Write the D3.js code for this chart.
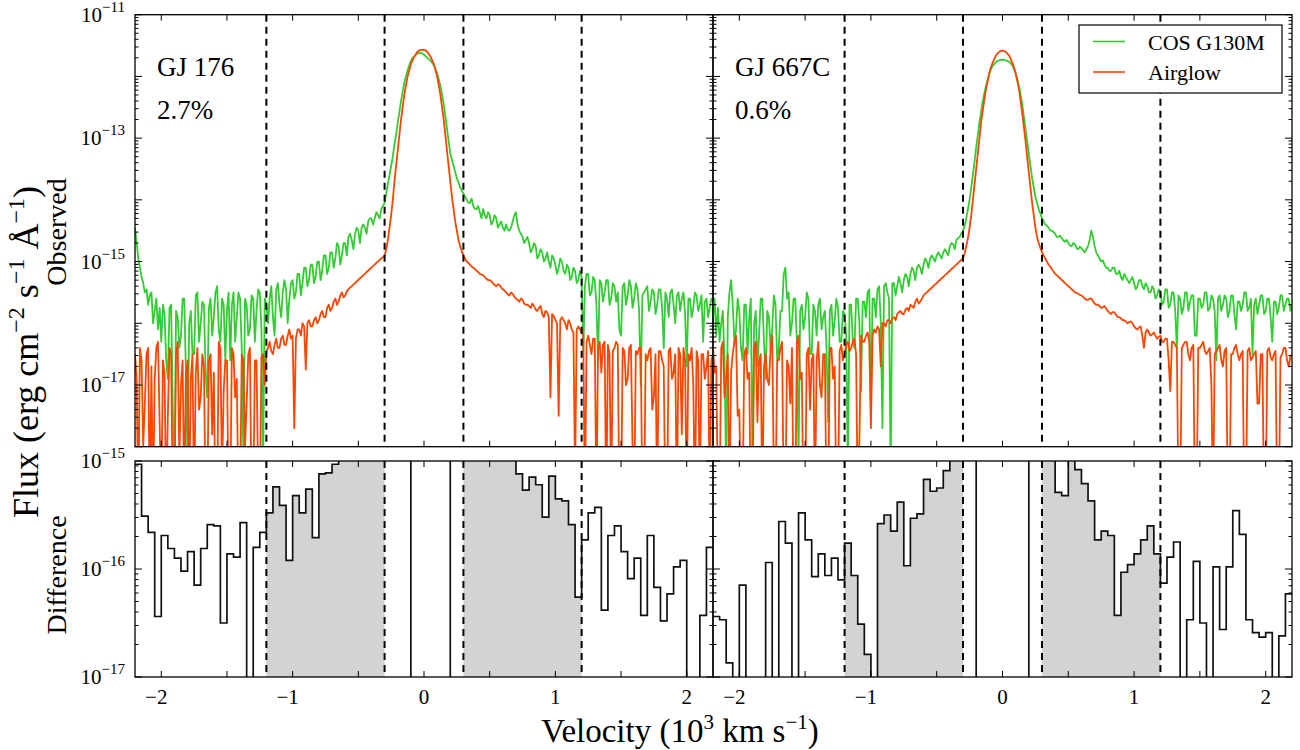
<!DOCTYPE html>
<html><head><meta charset="utf-8">
<script src="https://cdn.jsdelivr.net/npm/d3@7"></script>
<style>body{margin:0;background:#fff} text{font-family:"Liberation Serif","Times New Roman",serif;fill:#000}</style>
</head><body><svg id="c" width="1300" height="750"></svg>
<script>
// ---------- DATA (log10 flux, erg cm^-2 s^-1 A^-1) ----------
const velStart = -2.2, velStep = 0.0125;   // 10^3 km/s grid of the spectra
const gj176Cos = [
-14.45,-14.7,-14.95,-15.1,-15.25,-15.35,-15.5,-15.45,-15.7,-15.55,-15.5,-16.0,-15.8,-15.6,-16.1,-15.75,
-16.3,-15.7,-15.85,-16.6,-16.9,-15.75,-15.7,-17.4,-18.5,-15.8,-15.9,-16.4,-16.2,-15.6,-15.6,-16.8,
-18.3,-16.0,-15.8,-16.5,-16.5,-15.55,-15.5,-16.3,-16.0,-15.65,-15.7,-16.8,-17.2,-15.75,-15.6,-16.2,
-15.9,-15.5,-15.4,-16.1,-16.3,-15.6,-15.7,-16.6,-15.8,-15.5,-16.6,-15.7,-15.5,-16.3,-15.9,-15.5,
-15.6,-16.4,-18.2,-15.6,-15.7,-16.2,-16.1,-15.55,-15.6,-16.3,-15.8,-15.45,-15.5,-16.1,-18.4,-15.6,
-15.7,-16.0,-15.6,-15.4,-15.9,-16.2,-15.45,-15.35,-15.7,-15.9,-15.5,-15.3,-15.45,-16.0,-15.6,-15.35,
-15.3,-15.6,-15.5,-15.2,-15.2,-15.55,-15.35,-15.1,-15.1,-15.4,-15.3,-15.05,-15.05,-15.35,-15.25,-15.0,
-15.0,-15.3,-15.15,-14.9,-14.9,-15.2,-15.1,-14.85,-14.85,-15.1,-14.95,-14.7,-14.75,-15.05,-14.9,-14.7,
-14.7,-14.9,-14.6,-14.55,-14.65,-14.8,-14.55,-14.45,-14.5,-14.7,-14.45,-14.4,-14.45,-14.55,-14.35,-14.3,
-14.3,-14.4,-14.3,-14.2,-14.25,-14.3,-14.15,-14.1,-14.05,-13.9,-13.75,-13.6,-13.45,-13.3,-13.1,-12.95,
-12.75,-12.58,-12.4,-12.25,-12.1,-12.0,-11.9,-11.82,-11.75,-11.7,-11.68,-11.65,-11.63,-11.62,-11.62,-11.63,
-11.65,-11.67,-11.7,-11.72,-11.75,-11.78,-11.82,-11.88,-11.95,-12.05,-12.15,-12.3,-12.45,-12.65,-12.85,-13.05,
-13.25,-13.35,-13.45,-13.55,-13.65,-13.72,-13.8,-13.85,-13.9,-13.95,-14.0,-14.05,-14.05,-13.98,-14.1,-14.15,
-14.15,-14.1,-14.2,-14.3,-14.15,-14.25,-14.3,-14.2,-14.25,-14.4,-14.35,-14.25,-14.3,-14.45,-14.4,-14.35,
-14.45,-14.5,-14.4,-14.48,-14.5,-14.45,-14.35,-14.25,-14.2,-14.4,-14.5,-14.55,-14.6,-14.7,-14.65,-14.6,
-14.7,-14.85,-14.8,-14.7,-14.75,-14.95,-14.9,-14.8,-14.85,-15.0,-14.95,-14.85,-15.0,-15.1,-14.9,-14.95,
-15.05,-15.2,-15.1,-14.95,-15.0,-15.15,-15.2,-15.05,-15.1,-15.3,-15.25,-15.1,-15.15,-15.35,-15.3,-15.15,
-15.25,-16.5,-15.4,-15.2,-15.2,-15.55,-15.5,-15.25,-15.3,-15.7,-16.6,-15.3,-15.35,-15.65,-15.5,-15.3,
-15.3,-15.7,-15.6,-15.35,-15.4,-15.65,-15.5,-16.1,-16.2,-15.4,-15.35,-15.7,-15.55,-15.3,-15.4,-15.75,
-15.6,-15.35,-15.45,-15.8,-17.0,-15.55,-15.5,-15.45,-15.4,-15.8,-15.65,-15.45,-15.5,-15.85,-15.7,-15.45,
-15.45,-15.75,-16.4,-15.5,-15.6,-15.9,-15.5,-15.45,-15.7,-16.0,-15.55,-15.5,-15.8,-15.6,-15.5,-15.85,
-16.7,-15.6,-15.6,-15.9,-15.75,-15.5,-15.55,-15.8,-15.7,-15.55,-16.3,-15.65,-15.6,-15.9,-15.75,-15.6,
-15.65];
const gj176Air = [
-16.5,-16.9,-19,-16.4,-16.6,-18.0,-17.3,-16.5,-16.4,-19,-16.7,-19,-16.9,-16.4,-16.3,-17.6,
-19,-16.6,-16.8,-19,-17.5,-16.4,-16.5,-19,-19,-16.5,-16.3,-18.2,-17.0,-16.6,-19,-16.8,
-16.6,-19,-16.9,-16.5,-19,-16.8,-16.4,-17.4,-17.2,-16.5,-16.7,-19,-19,-16.6,-16.5,-17.8,
-16.8,-19,-19,-16.3,-16.4,-18.5,-17.1,-16.6,-16.6,-19,-19,-16.4,-16.5,-17.2,-16.9,-19,
-19,-16.5,-16.6,-18.0,-17.3,-16.5,-16.4,-19,-19,-16.6,-16.6,-18.6,-19,-16.55,-16.5,-17.0,
-16.45,-16.4,-16.3,-16.45,-16.5,-16.35,-16.25,-16.4,-16.4,-16.25,-16.2,-16.35,-16.35,-16.2,-16.1,-16.25,
-16.2,-17.7,-16.25,-16.1,-16.1,-16.2,-16.0,-16.05,-16.75,-16.0,-15.95,-16.05,-16.05,-15.95,-15.9,-16.0,
-15.95,-15.85,-15.8,-15.9,-15.9,-15.75,-15.7,-15.8,-15.75,-15.65,-15.6,-15.7,-15.65,-15.55,-15.5,-15.58,
-15.55,-15.48,-15.45,-15.42,-15.4,-15.37,-15.35,-15.32,-15.3,-15.27,-15.25,-15.22,-15.2,-15.17,-15.15,-15.12,
-15.1,-15.07,-15.05,-15.02,-15.0,-14.97,-14.95,-14.93,-14.9,-14.8,-14.65,-14.45,-14.25,-14.0,-13.7,-13.45,
-13.2,-12.95,-12.7,-12.5,-12.3,-12.15,-12.0,-11.9,-11.8,-11.74,-11.68,-11.64,-11.6,-11.58,-11.57,-11.57,
-11.57,-11.58,-11.6,-11.64,-11.68,-11.74,-11.8,-11.9,-12.0,-12.15,-12.3,-12.5,-12.7,-12.95,-13.2,-13.45,
-13.7,-13.95,-14.15,-14.35,-14.5,-14.65,-14.75,-14.83,-14.9,-14.95,-15.0,-15.02,-15.05,-15.08,-15.1,-15.12,
-15.15,-15.17,-15.2,-15.21,-15.22,-15.25,-15.28,-15.3,-15.3,-15.32,-15.35,-15.38,-15.4,-15.37,-15.38,-15.42,
-15.45,-15.47,-15.5,-15.53,-15.55,-15.5,-15.52,-15.57,-15.6,-15.62,-15.65,-15.6,-15.62,-15.68,-15.7,-15.7,
-15.72,-15.75,-15.68,-15.72,-15.78,-15.8,-15.75,-15.72,-15.85,-15.9,-15.8,-15.82,-15.9,-17.2,-15.85,-15.88,
-15.95,-16.0,-17.5,-15.95,-15.9,-15.95,-16.0,-16.1,-15.95,-16.0,-16.1,-16.15,-18.5,-16.1,-16.05,-16.1,
-16.15,-16.2,-19,-16.3,-16.2,-16.35,-16.5,-16.25,-16.25,-19,-16.4,-16.3,-16.8,-16.35,-16.3,-19,
-16.35,-16.5,-19,-16.45,-16.4,-16.3,-16.35,-19,-19,-16.4,-16.45,-17.0,-16.9,-16.4,-16.35,-18.0,
-19,-16.45,-16.5,-16.4,-16.4,-19,-19,-16.5,-16.6,-16.45,-16.4,-17.4,-17.2,-16.5,-19,-16.45,
-16.45,-16.6,-16.7,-19,-19,-16.45,-16.4,-16.9,-16.8,-16.5,-19,-16.4,-16.5,-17.8,-16.4,-16.6,
-19,-16.5,-16.6,-16.4,-17.0,-19,-16.45,-16.6,-19,-16.5,-16.5,-16.9,-16.7,-16.45,-19,-16.6,
-16.5];
const gj667Cos = [
-15.9,-15.6,-16.2,-15.75,-16.3,-16.0,-15.8,-16.6,-18.5,-15.9,-15.5,-15.3,-15.7,-16.3,-16.1,-15.6,
-15.8,-16.4,-16.6,-15.7,-15.7,-16.5,-15.9,-15.6,-18.3,-16.0,-15.8,-16.7,-16.2,-15.6,-15.6,-16.3,
-16.9,-15.8,-15.9,-16.4,-16.1,-15.55,-15.7,-16.6,-16.4,-15.8,-15.8,-15.2,-15.1,-15.6,-15.5,-16.2,
-16.0,-15.6,-15.6,-16.3,-18.2,-15.8,-15.7,-16.1,-15.9,-15.5,-15.6,-16.5,-16.5,-15.7,-15.8,-16.2,
-15.7,-15.6,-16.1,-15.9,-15.8,-16.4,-17.6,-15.8,-15.7,-16.2,-15.95,-15.6,-15.75,-16.3,-16.3,-15.8,
-15.85,-16.2,-18.5,-15.7,-15.7,-16.3,-16.4,-15.6,-15.6,-16.0,-17.1,-15.65,-15.65,-15.9,-15.5,-15.45,
-17.45,-15.6,-15.6,-15.9,-15.45,-15.4,-16.0,-17.7,-15.4,-15.35,-15.5,-15.6,-18.5,-15.35,-15.35,-15.55,
-15.4,-15.25,-15.35,-15.5,-15.3,-15.2,-15.25,-15.4,-15.2,-15.1,-15.15,-15.3,-15.1,-15.05,-15.1,-15.2,
-15.05,-14.95,-15.0,-15.1,-14.95,-14.9,-14.95,-15.0,-14.9,-14.85,-14.9,-14.95,-14.85,-14.8,-14.85,-14.9,
-14.75,-14.7,-14.72,-14.8,-14.65,-14.62,-14.6,-14.55,-14.5,-14.42,-14.3,-14.15,-14.0,-13.8,-13.6,-13.38,
-13.15,-12.95,-12.75,-12.57,-12.4,-12.27,-12.15,-12.05,-11.95,-11.88,-11.83,-11.8,-11.77,-11.75,-11.74,-11.73,
-11.73,-11.73,-11.74,-11.75,-11.76,-11.79,-11.82,-11.88,-11.95,-12.05,-12.15,-12.3,-12.45,-12.65,-12.85,-13.05,
-13.25,-13.45,-13.65,-13.8,-13.95,-14.05,-14.15,-14.22,-14.3,-14.35,-14.4,-14.42,-14.45,-14.5,-14.5,-14.52,
-14.55,-14.6,-14.6,-14.58,-14.62,-14.66,-14.68,-14.65,-14.7,-14.74,-14.75,-14.7,-14.72,-14.78,-14.8,-14.76,
-14.78,-14.82,-14.85,-14.8,-14.75,-14.65,-14.5,-14.6,-14.75,-14.85,-14.9,-14.95,-15.0,-14.98,-15.05,-15.1,
-15.1,-15.15,-15.15,-15.1,-15.1,-15.2,-15.2,-15.15,-15.25,-15.3,-15.2,-15.25,-15.3,-15.35,-15.3,-15.25,
-15.35,-15.45,-15.4,-15.3,-15.3,-15.4,-15.45,-15.35,-15.4,-15.5,-15.5,-15.4,-15.45,-15.6,-15.55,-15.45,
-15.5,-15.7,-15.65,-15.45,-15.45,-15.75,-15.7,-15.5,-15.5,-15.8,-16.4,-15.55,-15.6,-15.85,-15.75,-15.5,
-15.5,-15.8,-15.65,-15.55,-15.55,-16.2,-16.2,-15.6,-15.6,-15.75,-15.7,-15.5,-15.5,-15.8,-15.75,-15.55,
-15.6,-15.8,-16.6,-15.6,-15.55,-15.8,-15.7,-15.55,-15.6,-15.9,-15.8,-15.55,-15.55,-15.85,-16.1,-15.65,
-15.65,-15.8,-15.7,-15.5,-15.5,-15.8,-15.75,-15.6,-16.5,-15.7,-15.6,-15.85,-15.7,-15.55,-15.55,-15.85,
-15.8,-15.6,-15.6,-15.9,-16.3,-15.65,-15.65,-15.85,-15.75,-15.55,-15.55,-15.8,-15.7,-15.6,-15.6,-15.8,
-15.7];
const gj667Air = [
-16.4,-16.8,-16.7,-19,-19,-16.4,-16.3,-17.2,-16.9,-16.5,-19,-16.8,-16.5,-16.3,-16.2,-17.5,
-17.4,-19,-19,-16.5,-16.4,-16.9,-16.8,-19,-19,-16.4,-16.3,-17.6,-16.6,-16.5,-19,-16.7,
-16.5,-16.9,-17.0,-16.4,-16.2,-18.5,-19,-16.6,-16.6,-16.4,-16.3,-19,-19,-16.6,-16.7,-17.3,
-16.4,-19,-19,-16.3,-16.2,-16.9,-16.8,-19,-19,-16.5,-16.4,-17.4,-16.6,-16.5,-19,-16.6,
-16.3,-17.0,-17.2,-16.5,-16.5,-19,-19,-16.4,-16.4,-16.9,-16.7,-19,-19,-16.45,-16.35,-16.6,
-16.5,-16.35,-16.3,-16.45,-16.4,-16.3,-16.25,-16.5,-19,-17.9,-16.2,-16.3,-16.3,-16.2,-16.15,-16.3,
-17.7,-16.2,-16.1,-16.15,-16.05,-16.1,-16.7,-16.0,-16.0,-16.05,-15.95,-15.95,-16.0,-15.92,-15.9,-15.95,
-15.85,-15.82,-15.8,-15.85,-15.85,-15.78,-15.75,-15.8,-15.7,-15.72,-15.75,-15.65,-15.6,-15.68,-15.65,-15.6,
-15.55,-15.52,-15.5,-15.47,-15.45,-15.42,-15.4,-15.37,-15.35,-15.32,-15.3,-15.27,-15.25,-15.22,-15.2,-15.17,
-15.15,-15.12,-15.1,-15.07,-15.05,-15.02,-15.0,-14.97,-14.95,-14.87,-14.75,-14.62,-14.45,-14.25,-14.0,-13.75,
-13.5,-13.25,-13.0,-12.75,-12.55,-12.37,-12.2,-12.07,-11.95,-11.85,-11.78,-11.72,-11.66,-11.63,-11.6,-11.59,
-11.58,-11.59,-11.6,-11.63,-11.66,-11.72,-11.78,-11.85,-11.95,-12.07,-12.2,-12.4,-12.6,-12.82,-13.05,-13.3,
-13.55,-13.8,-14.05,-14.25,-14.45,-14.6,-14.7,-14.78,-14.85,-14.9,-14.95,-15.0,-15.05,-15.08,-15.12,-15.16,
-15.2,-15.22,-15.25,-15.27,-15.3,-15.32,-15.35,-15.37,-15.4,-15.42,-15.45,-15.47,-15.5,-15.51,-15.52,-15.54,
-15.55,-15.57,-15.6,-15.62,-15.62,-15.6,-15.6,-15.64,-15.68,-15.7,-15.7,-15.72,-15.75,-15.74,-15.72,-15.76,
-15.8,-15.83,-15.85,-15.82,-15.82,-15.86,-15.9,-15.9,-15.92,-15.95,-15.95,-15.97,-16.0,-15.98,-15.97,-16.0,
-16.05,-16.08,-16.1,-16.07,-16.05,-16.2,-16.4,-16.15,-16.1,-16.15,-16.2,-16.18,-16.15,-16.2,-16.25,-16.22,
-16.2,-16.3,-16.3,-16.25,-16.25,-16.6,-17.1,-16.3,-16.3,-16.35,-16.4,-19,-19,-16.4,-16.35,-16.3,
-16.3,-16.5,-16.6,-16.4,-16.35,-19,-19,-16.4,-16.4,-16.35,-16.3,-16.45,-16.5,-16.45,-16.4,-17.0,
-19,-16.5,-16.45,-16.4,-16.35,-16.6,-16.7,-16.45,-16.4,-19,-19,-16.5,-16.5,-16.4,-16.35,-16.5,
-16.6,-16.5,-16.45,-19,-19,-16.45,-16.4,-16.6,-16.55,-16.5,-16.45,-17.3,-17.3,-16.5,-16.5,-19,
-19,-16.45,-16.4,-16.55,-16.6,-16.5,-16.45,-19,-19,-16.55,-16.5,-16.4,-16.4,-16.6,-16.7,-16.55,
-16.5];
// difference histograms (log10), 0.05 bins from -2.2; null = negative difference
const binStart = -2.2, binWidth = 0.05;
const gj176Diff = [
-15.03,-15.51,-15.66,-16.44,-15.69,-15.81,-15.90,-16.02,-15.84,-16.15,
-15.81,-15.59,-15.60,-16.50,-15.86,-15.89,-15.57,null,-15.80,-15.66,
-15.48,-15.24,-15.41,-15.92,-15.32,-15.48,-15.26,-15.71,-15.12,-15.11,
-15.03,-14.9,-14.8,-14.7,-14.6,-14.5,-14.4,-14.3,-14.2,-14.1,
-14.0,-13.9,
null,null,null,null,null,null,
-14.0,-14.1,-14.2,-14.3,-14.4,-14.5,-14.6,-14.7,-14.8,-14.9,
-15.12,-15.27,-15.15,-15.22,-15.52,-15.14,-15.35,-15.37,-15.59,-16.26,
-15.73,-15.48,-15.43,-16.38,-15.69,-15.60,-15.84,-16.09,-15.90,-16.43,
-15.69,-16.17,-16.48,-16.23,-15.98,-15.92,null,null,-16.43,-15.80];
const gj667Diff = [
-16.44,-16.47,-16.87,null,-16.15,null,null,null,-15.94,null,
-15.56,-15.76,null,-15.48,-15.73,-16.07,-15.86,-16.06,-15.90,-16.10,
-15.76,-16.06,-16.51,-16.79,null,-15.58,-15.50,-15.65,-15.38,-15.97,
-15.53,-15.49,-15.17,-15.28,-15.25,-15.09,-14.9,-14.8,-14.7,-14.6,
null,null,null,null,null,null,null,null,
-14.6,-14.7,-14.8,-14.9,
-15.29,-15.32,-14.95,-15.08,-15.21,-15.37,-15.73,-15.65,
-15.69,-16.43,-16.03,-15.96,-15.86,-15.73,-15.60,-15.86,-16.13,-15.89,
-15.75,null,-16.47,-15.93,-16.50,null,-15.98,-16.56,-15.98,-15.46,
-15.68,-16.47,-16.59,-16.63,-16.59,null,-16.62,-16.23];
const starNames = ["GJ 176", "GJ 667C"];
const starFracs = ["2.7%", "0.6%"];
const legendLabels = ["COS G130M", "Airglow"];
const xTickLabels = [-2, -1, 0, 1, 2];
const xMinorTicks = [-2, -1.5, -1, -0.5, 0, 0.5, 1, 1.5, 2];
const dashedLines = [-1.2, -0.3, 0.3, 1.2];
const shadeBands = [[-1.2, -0.3], [0.3, 1.2]];
const topLabelExps = [-11, -13, -15, -17];
const botLabelExps = [-15, -16, -17];

// ---------- LAYOUT ----------
const GREEN = "#32cd32", ORANGE = "#ff4500";
const svg = d3.select("#c");
const defs = svg.append("defs");
const cols = [{x0:135, x1:713}, {x0:713, x1:1292}];
const TOP = {y0:14.7, y1:446.7}, BOT = {y0:461, y1:677};
const panels = [
  {cos:gj176Cos, air:gj176Air, diff:gj176Diff, name:starNames[0], frac:starFracs[0]},
  {cos:gj667Cos, air:gj667Air, diff:gj667Diff, name:starNames[1], frac:starFracs[1]}
];
const pw = v => v == null ? 1e-22 : Math.pow(10, v);

function logTicks(lo, hi){
  const maj=[], min=[];
  for(let e=lo;e<=hi;e++){ maj.push(Math.pow(10,e)); if(e<hi) for(let k=2;k<10;k++) min.push(k*Math.pow(10,e)); }
  return {maj,min};
}

panels.forEach((p, pi) => {
  const c = cols[pi];
  const x = d3.scaleLinear().domain([-2.2, 2.2]).range([c.x0, c.x1]);
  const yT = d3.scaleLog().domain([1e-18, 1e-11]).range([TOP.y1, TOP.y0]);
  const yB = d3.scaleLog().domain([1e-17, 1e-15]).range([BOT.y1, BOT.y0]);

  const cT = "clipT"+pi, cB = "clipB"+pi;
  defs.append("clipPath").attr("id", cT).append("rect")
    .attr("x", c.x0).attr("y", TOP.y0).attr("width", c.x1-c.x0).attr("height", TOP.y1-TOP.y0);
  defs.append("clipPath").attr("id", cB).append("rect")
    .attr("x", c.x0).attr("y", BOT.y0).attr("width", c.x1-c.x0).attr("height", BOT.y1-BOT.y0);

  // ---- top spectra
  const gT = svg.append("g").attr("clip-path", `url(#${cT})`);
  const line = d3.line().x((d,i) => x(velStart + i*velStep)).y(d => yT(pw(d)));
  gT.append("path").attr("d", line(p.cos)).attr("fill","none").attr("stroke",GREEN).attr("stroke-width",1.8).attr("stroke-linejoin","round");
  gT.append("path").attr("d", line(p.air)).attr("fill","none").attr("stroke",ORANGE).attr("stroke-width",1.8).attr("stroke-linejoin","round");

  // ---- bottom difference histogram
  const gB = svg.append("g").attr("clip-path", `url(#${cB})`);
  const pts = p.diff.map((v,i) => [binStart + i*binWidth, v]);
  pts.push([binStart + p.diff.length*binWidth, p.diff[p.diff.length-1]]);
  shadeBands.forEach(([a,b]) => {
    const sub = pts.filter(d => d[0] >= a-1e-6 && d[0] <= b+1e-6);
    const area = d3.area().curve(d3.curveStepAfter)
      .x(d => x(d[0])).y0(BOT.y1).y1(d => yB(pw(d[1])));
    gB.append("path").attr("d", area(sub)).attr("fill","#d3d3d3").attr("stroke","none");
  });
  const step = d3.line().curve(d3.curveStepAfter).x(d => x(d[0])).y(d => yB(pw(d[1])));
  gB.append("path").attr("d", step(pts)).attr("fill","none").attr("stroke","#111").attr("stroke-width",1.7);

  // ---- dashed lines
  [TOP, BOT].forEach(r => {
    svg.append("g").selectAll("line").data(dashedLines).join("line")
      .attr("x1", d=>x(d)).attr("x2", d=>x(d)).attr("y1", r.y0).attr("y2", r.y1)
      .attr("stroke","#000").attr("stroke-width",2).attr("stroke-dasharray","7,5");
  });

  // ---- frames & ticks
  [[TOP, yT, -18, -11], [BOT, yB, -17, -15]].forEach(([r, ys, lo, hi]) => {
    svg.append("rect").attr("x", c.x0).attr("y", r.y0).attr("width", c.x1-c.x0).attr("height", r.y1-r.y0)
      .attr("fill","none").attr("stroke","#000").attr("stroke-width",1.3);
    const g = svg.append("g").attr("stroke","#000").attr("stroke-width",1);
    const {maj, min} = logTicks(lo, hi);
    [[maj,7],[min,3.5]].forEach(([arr,len]) => {
      arr.forEach(v => {
        const yy = ys(v);
        g.append("line").attr("x1",c.x0).attr("x2",c.x0+len).attr("y1",yy).attr("y2",yy);
        g.append("line").attr("x1",c.x1).attr("x2",c.x1-len).attr("y1",yy).attr("y2",yy);
      });
    });
    xMinorTicks.forEach(v => {
      const xx = x(v);
      g.append("line").attr("x1",xx).attr("x2",xx).attr("y1",r.y0).attr("y2",r.y0+6);
      g.append("line").attr("x1",xx).attr("x2",xx).attr("y1",r.y1).attr("y2",r.y1-6);
    });
  });

  // ---- y tick labels (left column only)
  if (pi === 0) {
    const lab = (e, ys) => {
      const t = svg.append("text").attr("x", 125).attr("y", ys(Math.pow(10,e)) + 7)
        .attr("text-anchor","end").attr("font-size",21);
      t.append("tspan").text("10");
      t.append("tspan").attr("dy",-10).attr("font-size",15).text("\u2212" + Math.abs(e));
    };
    topLabelExps.forEach(e => lab(e, yT));
    botLabelExps.forEach(e => lab(e, yB));
  }
  // ---- x tick labels
  svg.append("g").selectAll("text").data(xTickLabels).join("text")
    .attr("x", d => x(d) + (d<0 ? -5 : 0)).attr("y", 704).attr("text-anchor","middle").attr("font-size",21)
    .text(d => d < 0 ? "\u2212" + Math.abs(d) : String(d));

  // ---- annotations
  svg.append("text").attr("x", c.x0+22).attr("y", 76).attr("font-size",27).text(p.name);
  svg.append("text").attr("x", c.x0+22).attr("y", 119).attr("font-size",27).text(p.frac);
});

// ---------- legend ----------
const lg = svg.append("g");
lg.append("rect").attr("x",1079).attr("y",25).attr("width",203).attr("height",68)
  .attr("fill","#fff").attr("stroke","#000").attr("stroke-width",1.2);
[[GREEN, 41.5, 50], [ORANGE, 72, 80]].forEach(([col, ly, ty], i) => {
  lg.append("line").attr("x1",1093).attr("x2",1125).attr("y1",ly).attr("y2",ly).attr("stroke",col).attr("stroke-width",1.6);
  lg.append("text").attr("x",1148).attr("y",ty).attr("font-size",22).text(legendLabels[i]);
});

// ---------- axis titles ----------
const xt = svg.append("text").attr("x", 680).attr("y", 742).attr("text-anchor","middle").attr("font-size",33);
xt.append("tspan").text("Velocity (10");
xt.append("tspan").attr("dy",-13).attr("font-size",21).text("3");
xt.append("tspan").attr("dy",13).text(" km s");
xt.append("tspan").attr("dy",-13).attr("font-size",21).text("\u22121");
xt.append("tspan").attr("dy",13).text(")");

const yt = svg.append("text").attr("transform","translate(38,352) rotate(-90)").attr("text-anchor","middle").attr("font-size",36);
yt.append("tspan").text("Flux (erg cm");
yt.append("tspan").attr("dy",-14).attr("font-size",24).text("\u22122");
yt.append("tspan").attr("dy",14).text(" s");
yt.append("tspan").attr("dy",-14).attr("font-size",24).text("\u22121");
yt.append("tspan").attr("dy",14).text(" \u00C5");
yt.append("tspan").attr("dy",-14).attr("font-size",24).text("\u22121");
yt.append("tspan").attr("dy",14).text(")");

svg.append("text").attr("transform","translate(66,232) rotate(-90)").attr("text-anchor","middle").attr("font-size",28).text("Observed");
svg.append("text").attr("transform","translate(66,575) rotate(-90)").attr("text-anchor","middle").attr("font-size",28).text("Difference");
</script></body></html>
